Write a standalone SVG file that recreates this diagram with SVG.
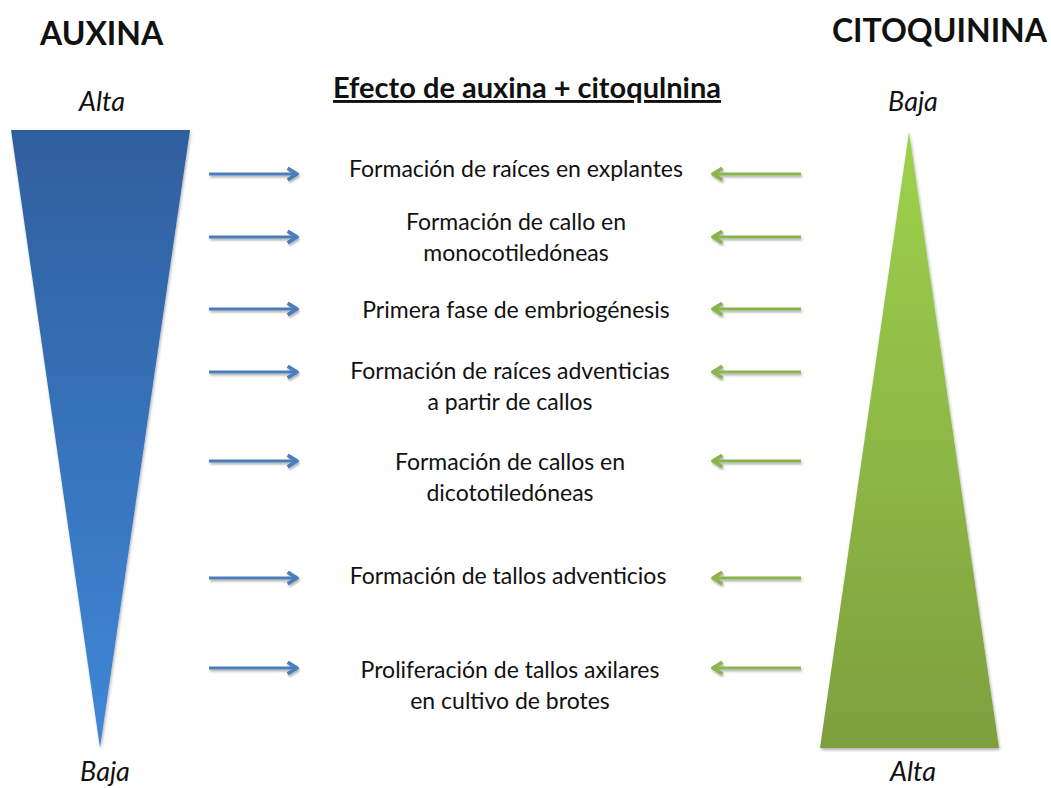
<svg xmlns="http://www.w3.org/2000/svg" width="1051" height="788" viewBox="0 0 1051 788">
<defs>
<linearGradient id="gBlue" x1="0" y1="0" x2="0" y2="1">
<stop offset="0" stop-color="#2f5f9e"/>
<stop offset="1" stop-color="#3f87d8"/>
</linearGradient>
<linearGradient id="gGreen" x1="0" y1="0" x2="0" y2="1">
<stop offset="0" stop-color="#9dd24c"/>
<stop offset="1" stop-color="#7e9f3e"/>
</linearGradient>
<filter id="sh" x="-10%" y="-10%" width="130%" height="130%">
<feDropShadow dx="1" dy="2" stdDeviation="1.5" flood-color="#000" flood-opacity="0.3"/>
</filter>
<filter id="shl" filterUnits="userSpaceOnUse" x="0" y="0" width="1051" height="788">
<feDropShadow dx="1" dy="2" stdDeviation="1.2" flood-color="#000" flood-opacity="0.3"/>
</filter>
<marker id="ab" viewBox="0 0 10 10" refX="8" refY="5" markerWidth="4.5" markerHeight="4.5" orient="auto" markerUnits="strokeWidth">
<path d="M1.5,1 L8,5 L1.5,9" fill="none" stroke="#4a7ebb" stroke-width="2.6" stroke-linejoin="round"/>
</marker>
<marker id="ag" viewBox="0 0 10 10" refX="8" refY="5" markerWidth="4.5" markerHeight="4.5" orient="auto" markerUnits="strokeWidth">
<path d="M1.5,1 L8,5 L1.5,9" fill="none" stroke="#8ab44e" stroke-width="2.6" stroke-linejoin="round"/>
</marker>
</defs>
<style>
.t{font-family:Lato,"Open Sans","Liberation Sans",sans-serif;fill:#111;}
.h{font-size:32px;font-weight:bold;}
.i{font-size:27px;font-style:italic;}
.l{font-size:23px;text-anchor:middle;}
.ti{font-size:29px;font-weight:bold;text-anchor:middle;text-decoration:underline;}
.bl{stroke:#4a7ebb;stroke-width:3.2;fill:none;marker-end:url(#ab);}
.gr{stroke:#8ab44e;stroke-width:3.2;fill:none;marker-end:url(#ag);}
</style>
<rect width="1051" height="788" fill="#fff"/>
<g id="auxina">
<text class="t h" x="40" y="45">AUXINA</text>
<text class="t i" x="102" y="111" text-anchor="middle">Alta</text>
<polygon points="11,130 190,130 100,748" fill="url(#gBlue)" filter="url(#sh)"/>
<text class="t i" x="105" y="781" text-anchor="middle">Baja</text>
</g>
<g id="citoquinina">
<text class="t h" x="1047" y="42" text-anchor="end">CITOQUININA</text>
<text class="t i" x="913" y="111" text-anchor="middle">Baja</text>
<polygon points="909,132 999,748 820,748" fill="url(#gGreen)" filter="url(#sh)"/>
<text class="t i" x="913" y="781" text-anchor="middle">Alta</text>
</g>
<g id="title">
<text class="t ti" x="527" y="98">Efecto de auxina + citoqulnina</text>
</g>
<g id="effects">
<text class="t l" x="516" y="177">Formación de raíces en explantes</text>
<text class="t l" x="516" y="230">Formación de callo en</text>
<text class="t l" x="516" y="261">monocotiledóneas</text>
<text class="t l" x="516" y="318">Primera fase de embriogénesis</text>
<text class="t l" x="510" y="379">Formación de raíces adventicias</text>
<text class="t l" x="510" y="410">a partir de callos</text>
<text class="t l" x="510" y="470">Formación de callos en</text>
<text class="t l" x="510" y="501">dicototiledóneas</text>
<text class="t l" x="508" y="584">Formación de tallos adventicios</text>
<text class="t l" x="510" y="678">Proliferación de tallos axilares</text>
<text class="t l" x="510" y="709">en cultivo de brotes</text>
</g>
<g id="connectors" filter="url(#shl)">
<line class="bl" x1="209" y1="174" x2="297" y2="174"/>
<line class="bl" x1="209" y1="237" x2="297" y2="237"/>
<line class="bl" x1="209" y1="309" x2="297" y2="309"/>
<line class="bl" x1="209" y1="372" x2="297" y2="372"/>
<line class="bl" x1="209" y1="461" x2="297" y2="461"/>
<line class="bl" x1="209" y1="578" x2="297" y2="578"/>
<line class="bl" x1="209" y1="668" x2="297" y2="668"/>
<line class="gr" x1="801" y1="174" x2="713" y2="174"/>
<line class="gr" x1="801" y1="237" x2="713" y2="237"/>
<line class="gr" x1="801" y1="309" x2="713" y2="309"/>
<line class="gr" x1="801" y1="372" x2="713" y2="372"/>
<line class="gr" x1="801" y1="461" x2="713" y2="461"/>
<line class="gr" x1="801" y1="578" x2="713" y2="578"/>
<line class="gr" x1="801" y1="668" x2="713" y2="668"/>
</g>
</svg>
